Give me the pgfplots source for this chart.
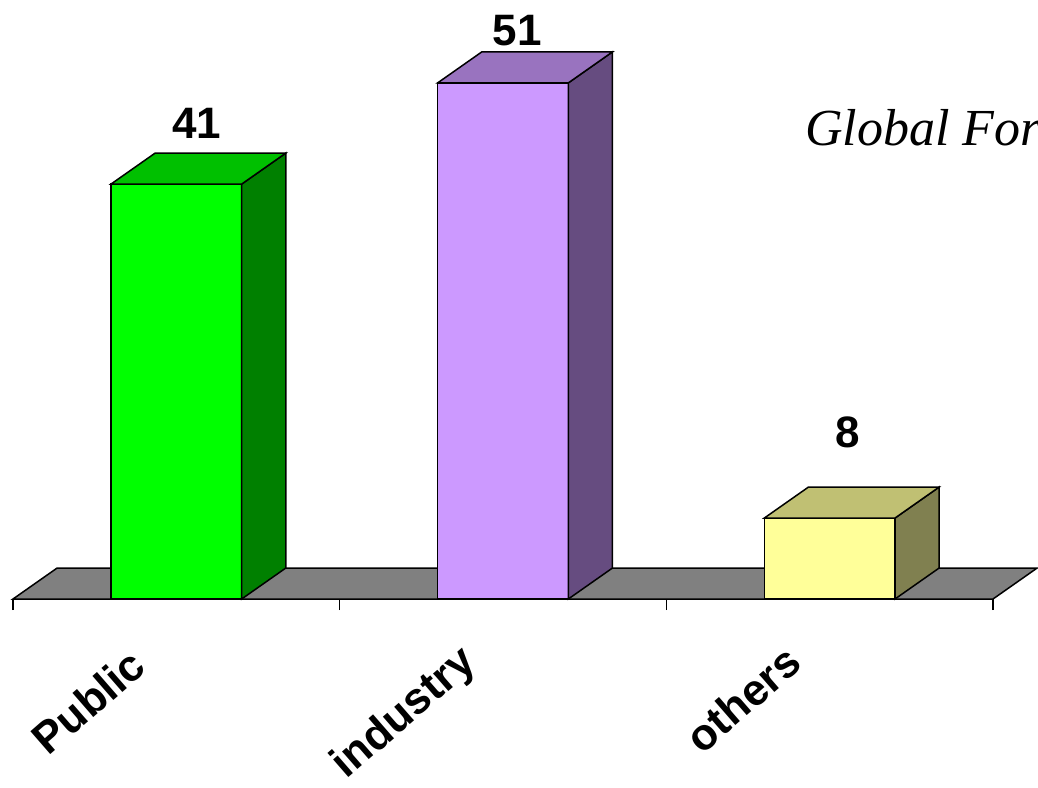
\documentclass[border=0pt]{standalone}
\usepackage{fontspec}
\setmainfont{Liberation Sans}
\newfontfamily\timesfont{Liberation Serif}
\usepackage{pgfplots}
\pgfplotsset{compat=1.18}
\definecolor{gfront}{HTML}{00FF00}
\definecolor{gside}{HTML}{008000}
\definecolor{gtop}{HTML}{00C000}
\definecolor{pfront}{HTML}{CC99FF}
\definecolor{pside}{HTML}{664C80}
\definecolor{ptop}{HTML}{9973BF}
\definecolor{yfront}{HTML}{FFFF99}
\definecolor{yside}{HTML}{808050}
\definecolor{ytop}{HTML}{C0C073}
\definecolor{floorgray}{HTML}{808080}
\begin{document}
\begin{tikzpicture}
\useasboundingbox (-13pt,-188pt) rectangle (1025pt,599pt);
\begin{axis}[
  at={(0pt,0pt)}, anchor=south west,
  width=980pt, height=599pt, scale only axis,
  xmin=0, xmax=3, ymin=0, ymax=59.19,
  clip=false,
  axis x line=bottom, axis y line=none,
  axis line style={-, black, line width=1.5pt},
  xtick={0,1,2,3}, xticklabels={},
  ytick=\empty,
  tick align=outside, major tick length=11pt,
  tick style={black, line width=1.5pt},
  no markers,
  every axis plot/.append style={draw=black, line width=1.5pt, line join=miter},
]
% floor
\addplot[fill=floorgray] coordinates {(0,0) (3,0) (3.135,3.06) (0.135,3.06)} -- cycle;
% Public (41)
\addplot[fill=gfront] coordinates {(0.3,0) (0.7,0) (0.7,41) (0.3,41)} -- cycle;
\addplot[fill=gside] coordinates {(0.7,0) (0.835,3.06) (0.835,44.06) (0.7,41)} -- cycle;
\addplot[fill=gtop] coordinates {(0.3,41) (0.7,41) (0.835,44.06) (0.435,44.06)} -- cycle;
% industry (51)
\addplot[fill=pfront] coordinates {(1.3,0) (1.7,0) (1.7,51) (1.3,51)} -- cycle;
\addplot[fill=pside] coordinates {(1.7,0) (1.835,3.06) (1.835,54.06) (1.7,51)} -- cycle;
\addplot[fill=ptop] coordinates {(1.3,51) (1.7,51) (1.835,54.06) (1.435,54.06)} -- cycle;
% others (8)
\addplot[fill=yfront] coordinates {(2.3,0) (2.7,0) (2.7,8) (2.3,8)} -- cycle;
\addplot[fill=yside] coordinates {(2.7,0) (2.835,3.06) (2.835,11.06) (2.7,8)} -- cycle;
\addplot[fill=ytop] coordinates {(2.3,8) (2.7,8) (2.835,11.06) (2.435,11.06)} -- cycle;
% value labels
\node[inner sep=0pt, font=\fontsize{44}{48}\bfseries\selectfont] at (axis cs:0.563,47.04) {41};
\node[inner sep=0pt, font=\fontsize{44}{48}\bfseries\selectfont] at (axis cs:1.543,56.2) {51};
\node[inner sep=0pt, font=\fontsize{44}{48}\bfseries\selectfont] at (axis cs:2.556,16.5) {8};
% category labels
\node[inner sep=0pt, anchor=base east, rotate=41, font=\fontsize{44}{48}\bfseries\selectfont] at (axis cs:0.415,-7.0) {Public};
\node[inner sep=0pt, anchor=base east, rotate=41, font=\fontsize{44}{48}\bfseries\selectfont] at (axis cs:1.423,-6.6) {industry};
\node[inner sep=0pt, anchor=base east, rotate=41, font=\fontsize{44}{48}\bfseries\selectfont] at (axis cs:2.422,-6.7) {others};
% partly visible title
\node[inner sep=0pt, anchor=base west, font=\fontsize{52}{56}\timesfont\itshape\selectfont] at (axis cs:2.424,44.86) {Global Forum};
\end{axis}
\end{tikzpicture}
\end{document}
